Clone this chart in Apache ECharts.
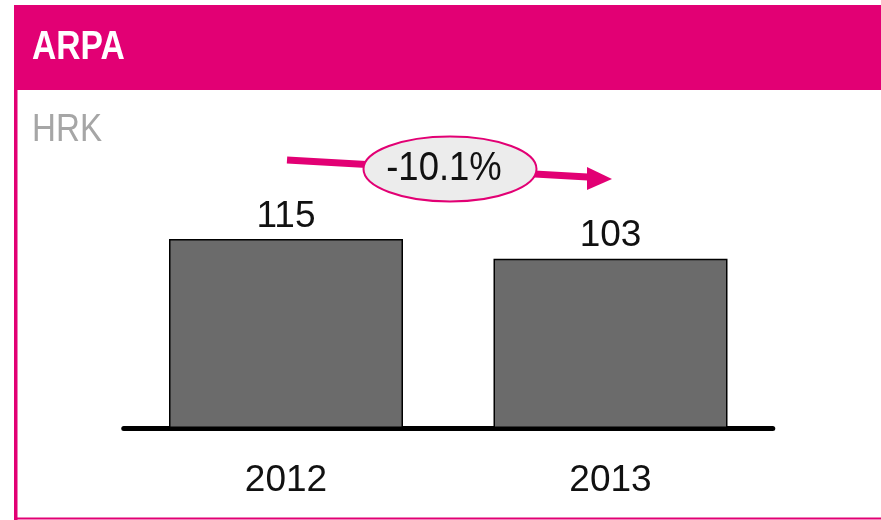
<!DOCTYPE html>
<html>
<head>
<meta charset="utf-8">
<script src="https://cdn.jsdelivr.net/npm/echarts@6/dist/echarts.min.js"></script>
<style>
html,body{margin:0;padding:0;background:#fff;}
#c{width:881px;height:520px;}
</style>
</head>
<body>
<div id="c"></div>
<script>
const title = 'ARPA';
const unit = 'HRK';
const categories = ['2012', '2013'];
const values = [115, 103];
const changeLabel = '-10.1%';

const MAG = '#e20074';
const FONT = '"Liberation Sans", Arial, sans-serif';

const chart = echarts.init(document.getElementById('c'), null, {renderer: 'canvas'});
chart.setOption({
  backgroundColor: '#fff',
  animation: false,
  grid: {left: 123.75, right: 108.25, top: 230.8, bottom: 92, containLabel: false},
  xAxis: {
    type: 'category',
    data: categories,
    axisLine: {show: true, lineStyle: {color: '#000', width: 5, cap: 'round'}},
    axisTick: {show: false},
    axisLabel: {color: '#111', fontFamily: FONT, fontSize: 37, margin: 34}
  },
  yAxis: {
    type: 'value', min: 0, max: 120,
    show: false,
    splitLine: {show: false}
  },
  series: [{
    type: 'bar',
    data: values,
    barWidth: 234,
    itemStyle: {color: '#6b6b6b', borderColor: '#000', borderWidth: 1.5},
    label: {show: true, position: 'top', distance: 4, color: '#111', fontFamily: FONT, fontSize: 37}
  }],
  graphic: [
    {type: 'rect', shape: {x: 14, y: 5, width: 867, height: 85}, style: {fill: MAG}, silent: true},
    {type: 'rect', shape: {x: 14, y: 90, width: 3.5, height: 430}, style: {fill: MAG}, silent: true},
    {type: 'rect', shape: {x: 14, y: 517.5, width: 867, height: 2}, style: {fill: MAG}, silent: true},
    {type: 'text', x: 32, y: 48, scaleX: 0.82, style: {text: title, fill: '#fff', font: 'bold 41px ' + FONT, textVerticalAlign: 'middle'}},
    {type: 'text', x: 32, y: 130, scaleX: 0.85, style: {text: unit, fill: '#a6a6a6', font: '39px ' + FONT, textVerticalAlign: 'middle'}},
    {type: 'line', shape: {x1: 287, y1: 160, x2: 592, y2: 177.3}, style: {stroke: MAG, lineWidth: 7}},
    {type: 'polygon', shape: {points: [[587, 167], [612, 179], [587, 190]]}, style: {fill: MAG}},
    {type: 'ellipse', shape: {cx: 450, cy: 169, rx: 86.5, ry: 32.5}, style: {fill: '#ececec', stroke: MAG, lineWidth: 2}, z: 10},
    {type: 'text', x: 444, y: 169, scaleX: 0.89, z: 11, style: {text: changeLabel, fill: '#111', font: '41px ' + FONT, textAlign: 'center', textVerticalAlign: 'middle'}}
  ]
});
</script>
</body>
</html>
